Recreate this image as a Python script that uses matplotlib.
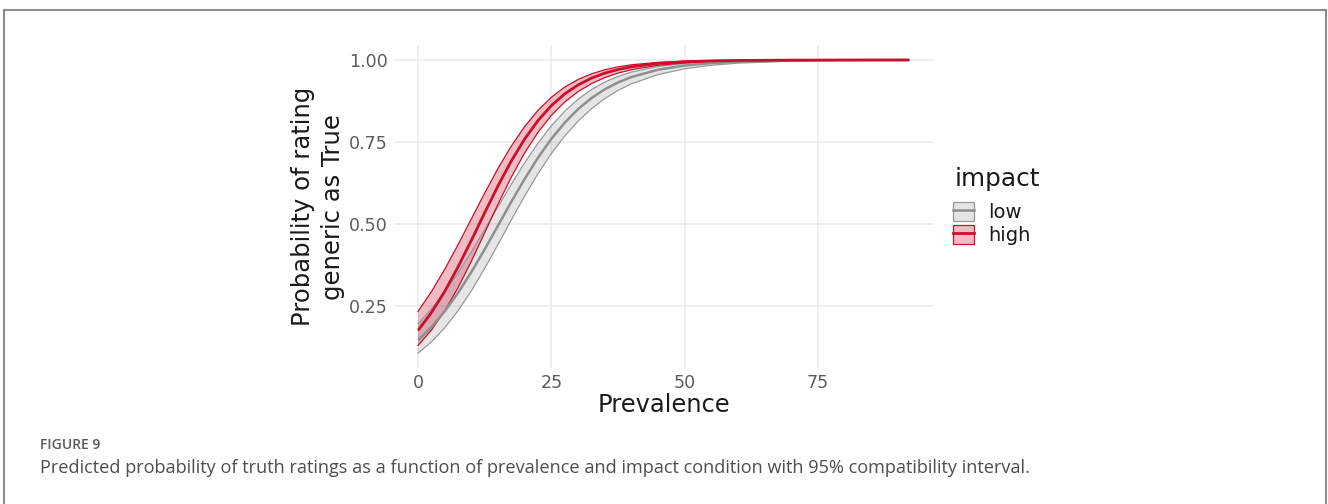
import matplotlib
matplotlib.use("Agg")
import matplotlib.pyplot as plt
from matplotlib.patches import Patch
from matplotlib.lines import Line2D

# ---- data ----
prevalence = [0, 2.5, 5, 7.5, 10, 12.5, 15, 17.5, 20, 22.5, 25, 27.5, 30,
              32.5, 35, 37.5, 40, 45, 50, 55, 60, 70, 80, 92]

low_fit = [0.1450, 0.1852, 0.2334, 0.2898, 0.3534, 0.4227, 0.4953, 0.5680,
           0.6378, 0.7023, 0.7597, 0.8090, 0.8502, 0.8838, 0.9106, 0.9317,
           0.9481, 0.9704, 0.9833, 0.9906, 0.9948, 0.9984, 0.9995, 0.9999]
low_upper = [0.1956, 0.2407, 0.2927, 0.3513, 0.4153, 0.4833, 0.5529, 0.6216,
             0.6870, 0.7468, 0.7994, 0.8440, 0.8806, 0.9098, 0.9326, 0.9501,
             0.9632, 0.9803, 0.9896, 0.9946, 0.9972, 0.9992, 0.9998, 1.0000]
low_lower = [0.1058, 0.1402, 0.1831, 0.2351, 0.2961, 0.3645, 0.4377, 0.5126,
             0.5856, 0.6538, 0.7150, 0.7683, 0.8137, 0.8514, 0.8823, 0.9073,
             0.9273, 0.9557, 0.9733, 0.9840, 0.9904, 0.9966, 0.9988, 0.9996]

high_fit = [0.1751, 0.2293, 0.2942, 0.3688, 0.4502, 0.5343, 0.6166, 0.6926,
            0.7595, 0.8157, 0.8612, 0.8968, 0.9241, 0.9447, 0.9599, 0.9710,
            0.9792, 0.9893, 0.9945, 0.9972, 0.9986, 0.9996, 0.9999, 1.0000]
high_upper = [0.2333, 0.2932, 0.3616, 0.4367, 0.5155, 0.5944, 0.6696, 0.7380,
              0.7974, 0.8469, 0.8866, 0.9174, 0.9406, 0.9577, 0.9702, 0.9791,
              0.9854, 0.9929, 0.9966, 0.9984, 0.9992, 0.9998, 1.0000, 1.0000]
high_lower = [0.1290, 0.1758, 0.2347, 0.3057, 0.3865, 0.4733, 0.5606, 0.6433,
              0.7171, 0.7798, 0.8311, 0.8719, 0.9036, 0.9279, 0.9463, 0.9601,
              0.9704, 0.9838, 0.9912, 0.9952, 0.9974, 0.9992, 0.9998, 0.9999]

x_ticks = [0, 25, 50, 75]
x_ticklabels = ["0", "25", "50", "75"]
y_ticks = [0.25, 0.50, 0.75, 1.00]
y_ticklabels = ["0.25", "0.50", "0.75", "1.00"]

groups = ["low", "high"]
x_title = "Prevalence"
y_title = "Probability of rating\ngeneric as True"
legend_title = "impact"
fig_label = "FIGURE 9"
caption = ("Predicted probability of truth ratings as a function of prevalence "
           "and impact condition with 95% compatibility interval.")

# ---- styling ----
RED = "#C8102E"
GRAY = "#999999"
W, H = 1328, 504
plt.rcParams["font.family"] = ["DejaVu Sans"]

fig = plt.figure(figsize=(W / 100, H / 100), dpi=100)
fig.patch.set_facecolor("white")

ax_left, ax_right, ax_top, ax_bottom = 393.5, 933.5, 45.3, 368.0
ax = fig.add_axes([ax_left / W, 1 - ax_bottom / H,
                   (ax_right - ax_left) / W, (ax_bottom - ax_top) / H])
ax.set_xlim(-4.6, 96.6)
ax.set_ylim(0.0605, 1.0448)
for s in ax.spines.values():
    s.set_visible(False)
ax.set_xticks(x_ticks)
ax.set_xticklabels(x_ticklabels)
ax.set_yticks(y_ticks)
ax.set_yticklabels(y_ticklabels)
ax.tick_params(axis="both", length=0, labelsize=12.6, colors="#5c5c5c")
ax.tick_params(axis="x", pad=4.6)
ax.tick_params(axis="y", pad=4.0)
ax.grid(True, color="#EBEBEB", lw=1.1)
ax.set_axisbelow(True)

# ribbons
ax.fill_between(prevalence, low_lower, low_upper, facecolor=GRAY, alpha=0.25, lw=0)
ax.plot(prevalence, low_upper, color=GRAY, lw=0.9)
ax.plot(prevalence, low_lower, color=GRAY, lw=0.9)
ax.fill_between(prevalence, high_lower, high_upper, facecolor=RED, alpha=0.28, lw=0)
ax.plot(prevalence, high_upper, color=RED, lw=0.9)
ax.plot(prevalence, high_lower, color=RED, lw=0.9)
# fitted lines
ax.plot(prevalence, low_fit, color="#8f8f8f", lw=1.8, solid_capstyle="butt")
ax.plot(prevalence, high_fit, color=RED, lw=2.0, solid_capstyle="butt")

# axis titles
fig.text((ax_left + ax_right) / 2 / W, 1 - 405 / H, x_title, ha="center",
         va="center", fontsize=17.4, color="#1a1a1a")
fig.text(318 / W, 1 - (ax_top + ax_bottom) / 2 / H, y_title, rotation=90,
         ha="center", va="center", multialignment="center", fontsize=17.5,
         color="#1a1a1a", linespacing=1.3)

# legend
fig.text(955 / W, 1 - 179 / H, legend_title, ha="left", va="center",
         fontsize=17.8, color="#1a1a1a")
handles = [
    (Patch(facecolor=(0.6, 0.6, 0.6, 0.25), edgecolor=GRAY, lw=0.9),
     Line2D([], [], color="#8f8f8f", lw=1.8)),
    (Patch(facecolor=(200 / 255, 16 / 255, 46 / 255, 0.28), edgecolor=RED, lw=0.9),
     Line2D([], [], color=RED, lw=2.0)),
]
fig.legend(handles=handles, labels=groups, loc="upper left",
           bbox_to_anchor=(953 / W, 1 - 202 / H), frameon=False, fontsize=14,
           handlelength=1.1, handleheight=1.15, handletextpad=0.7,
           labelspacing=0.12, borderpad=0, borderaxespad=0,
           labelcolor="#1a1a1a")

# caption
fig.text(40 / W, 1 - 445 / H, fig_label, ha="left", va="center", fontsize=10,
         fontweight="semibold", color="#5a5a5a", family=["Open Sans", "DejaVu Sans"])
fig.text(40 / W, 1 - 468 / H, caption, ha="left", va="center", fontsize=13.1,
         color="#4d4d4d", family=["Open Sans", "DejaVu Sans"])

# outer frame
frame_c = "#8c8c8c"
fig.add_artist(Line2D([4 / W, 1326 / W], [1 - 10 / H, 1 - 10 / H],
                      transform=fig.transFigure, color=frame_c, lw=1.5))
fig.add_artist(Line2D([4 / W, 4 / W], [1 - 10 / H, 0],
                      transform=fig.transFigure, color=frame_c, lw=1.5))
fig.add_artist(Line2D([1326 / W, 1326 / W], [1 - 10 / H, 0],
                      transform=fig.transFigure, color=frame_c, lw=1.5))

fig.savefig("out.png", dpi=100, facecolor="white")
